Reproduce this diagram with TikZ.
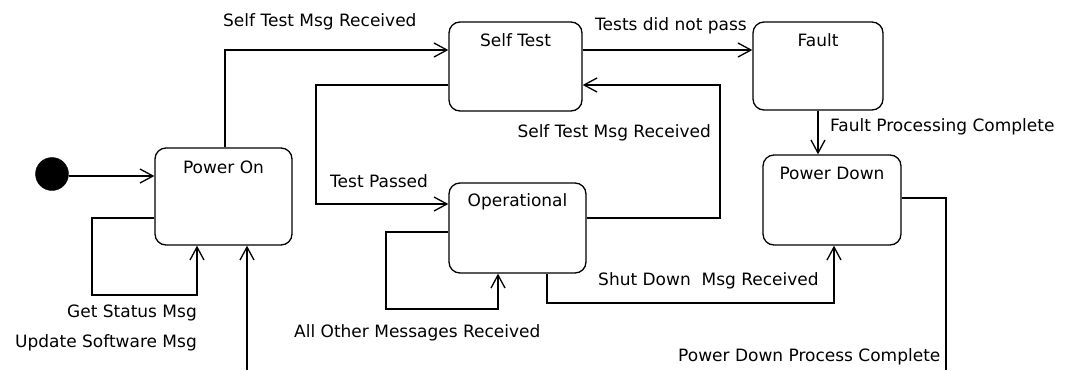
\documentclass[tikz,border=0pt]{standalone}
\usepackage{fontspec}
\setmainfont{DejaVu Sans}
\usetikzlibrary{arrows.meta,calc}
\tikzset{
  st_box/.style = {draw=black, rectangle, rounded corners=11pt, line width=1.3pt, inner sep=0pt},% etat
  st_init/.style = {circle, draw=black, fill=black, minimum size=33pt, inner sep=0pt},% etat initial
  st_name/.style = {inner sep=0pt, font=\fontsize{17}{20}\selectfont},% nom de l'etat
  tr_lbl/.style = {inner sep=0pt, font=\fontsize{17}{20}\selectfont},% evenement
  tr/.style = {->, line width=1.3pt}% transition
}
\begin{document}
\begin{tikzpicture}[x=1pt, y=-1pt, >={Straight Barb[length=13pt,width=14pt]}]
\useasboundingbox (0,0) rectangle (1067,370);
% etats
\node [st_init] (init) at (52,174) {};
\node [st_box, minimum width=137pt, minimum height=97pt] (pon) at (223.5,196.5) {};
\node [st_box, minimum width=133pt, minimum height=89pt] (stest) at (515.5,66.5) {};
\node [st_box, minimum width=137pt, minimum height=90pt] (opr) at (517.5,228) {};
\node [st_box, minimum width=130pt, minimum height=88pt] (flt) at (818,66) {};
\node [st_box, minimum width=138pt, minimum height=90pt] (pdn) at (832,200) {};
\node [st_name] (pon_t) at ($(pon.north)+(0,20)$) {Power On};
\node [st_name] (stest_t) at ($(stest.north)+(0,19)$) {Self Test};
\node [st_name] (opr_t) at ($(opr.north)+(0,19)$) {Operational};
\node [st_name] (flt_t) at ($(flt.north)+(0,19)$) {Fault};
\node [st_name] (pdn_t) at ($(pdn.north)+(0,19)$) {Power Down};
% bouts coupes en bas
\coordinate (pon_in) at (247,370);
\coordinate (pdn_out) at (946,370);
% transitions
\draw [tr] (init.east |- 0,176) -- (pon.west |- 0,176);
\draw [tr] ($(pon.west)+(0,21.5)$) -| (92,295) -| ($(pon.south)+(-26.5,0)$);
\draw [tr] (pon_in) -- (pon_in |- pon.south);
\draw [tr] ($(pon.north)+(1.5,0)$) |- ($(stest.west)+(0,-16.5)$);
\draw [tr] ($(stest.west)+(0,18.5)$) -| (316,204) -- ($(opr.west)+(0,-24)$);
\draw [tr] ($(opr.west)+(0,4)$) -| (386,309) -| ($(opr.south)+(-19.5,0)$);
\draw [tr] ($(opr.east)+(0,-10)$) -| (720,85) -- ($(stest.east)+(0,18.5)$);
\draw [tr] ($(stest.east)+(0,-16.5)$) -- ($(flt.west)+(0,-16)$);
\draw [tr] (flt.south) -- (flt.south |- pdn.north);
\draw [tr] ($(opr.south)+(29.5,0)$) |- (834,303) -- ($(pdn.south)+(2,0)$);
\draw [tr, -] ($(pdn.east)+(0,-2)$) -| (pdn_out);
% evenements
\node [tr_lbl, anchor=west] (l_st1) at (223,22) {Self Test Msg Received};
\node [tr_lbl, anchor=east] (l_gs) at (197,313) {Get Status Msg};
\node [tr_lbl, anchor=east] (l_us) at (197,343) {Update Software Msg};
\node [tr_lbl, anchor=west] (l_tp) at (330,181) {Test Passed};
\node [tr_lbl, anchor=west] (l_all) at (294,333) {All Other Messages Received};
\node [tr_lbl, anchor=east] (l_st2) at (711,133) {Self Test Msg Received};
\node [tr_lbl, anchor=west] (l_tnp) at (595,26) {Tests did not pass};
\node [tr_lbl, anchor=west] (l_fpc) at (830,127) {Fault Processing Complete};
\node [tr_lbl, anchor=west] (l_sd) at (598,281) {Shut Down\ \ Msg Received};
\node [tr_lbl, anchor=west] (l_pdc) at (678,357) {Power Down Process Complete};
\end{tikzpicture}
\end{document}
